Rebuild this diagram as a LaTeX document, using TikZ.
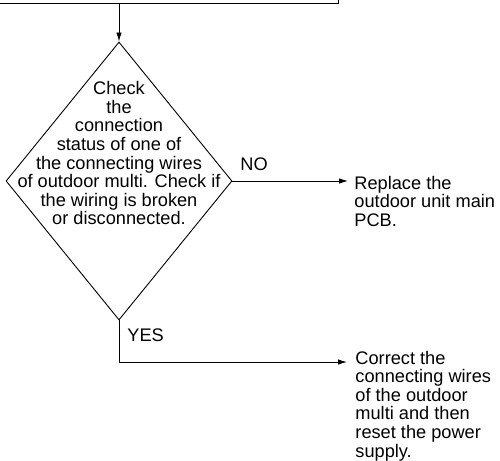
\documentclass[tikz,border=0pt]{standalone}
\usepackage{fontspec}
\setmainfont{Liberation Sans}
\usetikzlibrary{arrows.meta,shapes.geometric}
\begin{document}
\begin{tikzpicture}[x=1pt,y=-1pt,
  line width=0.9pt,
  arr/.style={-{Latex[length=9pt,width=5.5pt]}},
  txt/.style={inner sep=0pt,font=\fontsize{18.2}{18.6}\selectfont},
  lbl/.style={inner sep=0pt,font=\fontsize{18.2}{18.6}\selectfont,anchor=base west}]
\useasboundingbox (0,0) rectangle (500,460);
\clip (0,0) rectangle (500,460);
% top box (cut off)
\node[draw,rectangle,inner sep=0pt,minimum width=380pt,minimum height=60pt,anchor=south east] (top) at (339,4) {};
% decision
\node[draw,diamond,inner sep=0pt,minimum width=226pt,minimum height=278pt] (d) at (119,181) {};
\node[txt,align=center,anchor=north] (dtext) at (119,81) {Check\\the\\connection\\status of one of\\the connecting wires\\of outdoor multi. Check if\\the wiring is broken\\or disconnected.};
\draw[arr] (d.north |- top.south) -- (d.north);
% NO branch
\node[txt,align=left,anchor=north west] (no) at (354,175.5) {Replace the\\outdoor unit main\\PCB.};
\coordinate (noend) at (348,181);
\draw[arr] (d.east) -- (noend);
\node[lbl] (nolbl) at (240,170.5) {NO};
% YES branch
\node[txt,align=left,anchor=north west] (yes) at (355,350.5) {Correct the\\connecting wires\\of the outdoor\\multi and then\\reset the power\\supply.};
\coordinate (yescorner) at (119,362);
\coordinate (yesend) at (347,362);
\draw[arr] (d.south) -- (yescorner) -- (yesend);
\node[lbl] (yeslbl) at (127,341.5) {YES};
\end{tikzpicture}
\end{document}
